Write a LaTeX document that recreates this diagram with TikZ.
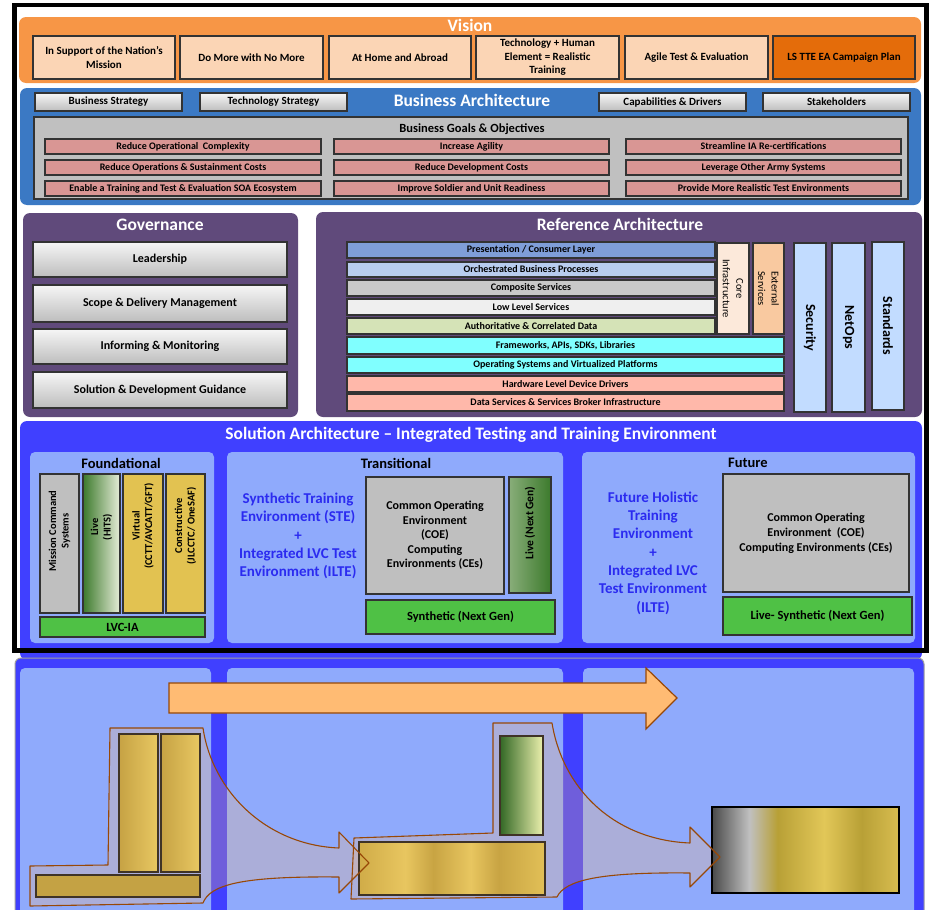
\documentclass[tikz,border=0pt]{standalone}
\usepackage{fontspec}
\setmainfont{Carlito}

% palette
\definecolor{visOr}{HTML}{F79646}
\definecolor{visBox}{HTML}{FBD5B5}
\definecolor{visDark}{HTML}{E46C0A}
\definecolor{lineGray}{HTML}{333333}
\definecolor{baBlue}{HTML}{3B79C4}
\definecolor{btnTop}{HTML}{F6F6F6}
\definecolor{btnBot}{HTML}{BDBDBD}
\definecolor{goalGray}{HTML}{C0C0C0}
\definecolor{pinkRow}{HTML}{D99694}
\definecolor{purp}{HTML}{604A7B}
\definecolor{presBlue}{HTML}{7F9ED8}
\definecolor{orchBlue}{HTML}{B8CCEE}
\definecolor{compGray}{HTML}{C8C8C8}
\definecolor{lowGray}{HTML}{EFEFEF}
\definecolor{authGreen}{HTML}{D5E3B7}
\definecolor{cyanRow}{HTML}{80FFFF}
\definecolor{salmon}{HTML}{FFB8AA}
\definecolor{coreCol}{HTML}{FCE9DA}
\definecolor{extCol}{HTML}{F9C9A0}
\definecolor{secBlue}{HTML}{C2DCFF}
\definecolor{solBlue}{HTML}{4040FF}
\definecolor{subBlue}{HTML}{8FAAFC}
\definecolor{midGray}{HTML}{BFBFBF}
\definecolor{gold}{HTML}{E2C251}
\definecolor{lvcGreen}{HTML}{4FC145}
\definecolor{blueTxt}{HTML}{2B2BF0}
\definecolor{envOr}{HTML}{FFBB73}
\definecolor{envLine}{HTML}{984807}
\definecolor{liveDark}{HTML}{3C7A2C}
\definecolor{liveLight}{HTML}{E6ECD8}
\definecolor{tanDark}{HTML}{C6A244}
\definecolor{tanLight}{HTML}{E8C862}
\definecolor{tanFlat}{HTML}{C4A244}
\definecolor{boxEdge}{HTML}{3F3326}
% stripe colours of the metallic bars
\definecolor{gA}{HTML}{D0AC48}
\definecolor{gB}{HTML}{E8C660}
\definecolor{gC}{HTML}{C8A443}
\definecolor{gD}{HTML}{E2C057}
\definecolor{mA}{HTML}{4A4A4A}
\definecolor{mB}{HTML}{C0C0C0}
\definecolor{mC}{HTML}{B8A036}
\definecolor{mD}{HTML}{E2C758}
\definecolor{mE}{HTML}{D8BD50}

\pgfdeclarehorizontalshading{goldstripe}{100bp}{color(0bp)=(gA); color(25bp)=(gA);
  color(37.5bp)=(gB); color(45bp)=(gC); color(55bp)=(gB); color(62.5bp)=(gC);
  color(75bp)=(gD); color(100bp)=(gD)}
\pgfdeclarehorizontalshading{metalgold}{100bp}{color(0bp)=(mA); color(25bp)=(mA);
  color(35bp)=(mB); color(42.5bp)=(mC); color(55bp)=(mD); color(65bp)=(mC);
  color(75bp)=(mE); color(100bp)=(mE)}

% box from corner (x1,y1) to (x2,y2), text centred
\newcommand{\bx}[7][]{%
  \pgfmathsetmacro\bxw{#5-#3}%
  \pgfmathsetmacro\bxh{#6-#4}%
  \node[bxbase,#1,minimum width=\bxw pt,minimum height=\bxh pt] (#2)
    at ({(#3+#5)/2},{(#4+#6)/2}) {#7};}

\tikzset{
  bxbase/.style={draw=lineGray, line width=1.2pt, align=center, inner sep=1pt, text=black},
  fs/.style 2 args={font=\fontsize{#1}{#2}\selectfont\bfseries},
  fr/.style 2 args={font=\fontsize{#1}{#2}\selectfont},
  panel/.style={draw=none, rounded corners=7pt},
  ptitle/.style={fs={17.5}{20}, text=white},
  vbox/.style={fill=visBox, fs={11}{13.5}},
  graybtn/.style={top color=btnTop, bottom color=btnBot, fs={11}{13}},
  pinkrow/.style={fill=pinkRow, fs={10}{12}},
  layer/.style={fs={10}{12}},
  govbox/.style={top color=btnTop, bottom color=btnBot, fs={12}{14}},
  subpanel/.style={fill=subBlue, draw=none, rounded corners=5pt},
  subtitle/.style={fs={14.5}{16}},
  bluetxt/.style={fs={15}{18.3}, text=blueTxt, align=center},
  vtext/.style={align=center, inner sep=0pt},
  greenbar/.style={fill=lvcGreen, fs={12.5}{14}},
  coebox/.style={fill=midGray, fs={12}{14.5}},
  stagebox/.style={draw=boxEdge, line width=1.2pt},
  envfill/.style={fill=envOr, fill opacity=0.25},
  envline/.style={draw=envLine, line width=1.1pt, line join=round},
}

\begin{document}
\begin{tikzpicture}[x=1pt,y=-1pt]
\useasboundingbox (0,0) rectangle (930,910);

% ---------------- Vision ----------------
\bx[panel,fill=visOr]{vis}{19}{17}{921}{83}{}
\node[ptitle] (vis-t) at (470,25) {Vision};
\bx[vbox]{v1}{33}{36}{175}{79}{In Support of the Nation's\\Mission}
\bx[vbox]{v2}{180}{36}{323}{79}{Do More with No More}
\bx[vbox]{v3}{329}{36}{471}{79}{At Home and Abroad}
\bx[vbox]{v4}{476}{36}{619}{79}{Technology + Human\\Element = Realistic\\Training}
\bx[vbox]{v5}{625}{36}{768}{79}{Agile Test \& Evaluation}
\bx[vbox,fill=visDark]{v6}{773}{36}{915}{79}{LS TTE EA Campaign Plan}

% ---------------- Business Architecture ----------------
\bx[panel,fill=baBlue]{ba}{20}{88}{921}{205}{}
\node[ptitle] (ba-t) at (472,100) {Business Architecture};
\bx[graybtn]{bs}{35}{93}{182}{111}{Business Strategy}
\bx[graybtn]{tsg}{200}{93}{347}{111}{Technology Strategy}
\bx[graybtn]{cd}{599}{93}{746}{111}{Capabilities \& Drivers}
\bx[graybtn]{sh}{763}{93}{910}{111}{Stakeholders}
\bx[fill=goalGray]{goals}{34}{117}{908}{199}{}
\node[fs={12.5}{14}] (goals-t) at (472,129) {Business Goals \& Objectives};
\bx[pinkrow]{g11}{45}{139}{321}{154}{Reduce Operational\ \ Complexity}
\bx[pinkrow]{g12}{45}{160}{321}{175}{Reduce Operations \& Sustainment Costs}
\bx[pinkrow]{g13}{45}{181}{321}{196}{Enable a Training and Test \& Evaluation SOA Ecosystem}
\bx[pinkrow]{g21}{334}{139}{609}{154}{Increase Agility}
\bx[pinkrow]{g22}{334}{160}{609}{175}{Reduce Development Costs}
\bx[pinkrow]{g23}{334}{181}{609}{196}{Improve Soldier and Unit Readiness}
\bx[pinkrow]{g31}{626}{139}{901}{154}{Streamline IA Re-certifications}
\bx[pinkrow]{g32}{626}{160}{901}{175}{Leverage Other Army Systems}
\bx[pinkrow]{g33}{626}{181}{901}{196}{Provide More Realistic Test Environments}

% ---------------- Governance ----------------
\bx[panel,fill=purp]{gov}{23}{213}{298}{417}{}
\node[ptitle] (gov-t) at (160,225) {Governance};
\bx[govbox]{gl}{33}{242}{287}{277}{Leadership}
\bx[govbox]{gs}{33}{285}{287}{322}{Scope \& Delivery Management}
\bx[govbox]{gi}{33}{329}{287}{364}{Informing \& Monitoring}
\bx[govbox]{gd}{33}{372}{287}{408}{Solution \& Development Guidance}

% ---------------- Reference Architecture ----------------
\bx[panel,fill=purp]{ra}{316}{212}{922}{417}{}
\node[ptitle] (ra-t) at (620,224) {Reference Architecture};
\bx[layer,fill=presBlue]{l1}{347}{242}{715}{258}{Presentation / Consumer Layer}
\bx[layer,fill=orchBlue]{l2}{347}{262}{715}{277}{Orchestrated Business Processes}
\bx[layer,fill=compGray]{l3}{347}{280}{715}{296}{Composite Services}
\bx[layer,fill=lowGray]{l4}{347}{299}{715}{315}{Low Level Services}
\bx[layer,fill=authGreen]{l5}{347}{318}{715}{334}{Authoritative \& Correlated Data}
\bx[layer,fill=cyanRow]{l6}{347}{337}{784}{354}{Frameworks, APIs, SDKs, Libraries}
\bx[layer,fill=cyanRow]{l7}{347}{357}{784}{373}{Operating Systems and Virtualized Platforms}
\bx[layer,fill=salmon]{l8}{347}{376}{784}{392}{Hardware Level Device Drivers}
\bx[layer,fill=salmon]{l9}{347}{394}{784}{411}{Data Services \& Services Broker Infrastructure}
\bx[fill=coreCol]{core}{717}{243}{749}{334}{}
\node[vtext,fr={10.5}{13.5},rotate=-90] (core-t) at (core) {Core\\Infrastructure};
\bx[fill=extCol]{ext}{753}{243}{784}{334}{}
\node[vtext,fr={10.5}{13.5},rotate=-90] (ext-t) at (ext) {External\\Services};
\bx[fill=secBlue]{sec}{794}{243}{826}{412}{}
\node[vtext,fs={14}{16},rotate=-90] (sec-t) at (sec) {Security};
\bx[fill=secBlue]{net}{832}{243}{865}{412}{}
\node[vtext,fs={14}{16},rotate=-90] (net-t) at (net) {NetOps};
\bx[fill=secBlue]{std}{872}{242}{904}{410}{}
\node[vtext,fs={14}{16},rotate=-90] (std-t) at (std) {Standards};

% ---------------- Solution Architecture ----------------
\bx[panel,fill=solBlue]{sol}{20}{421}{922}{660}{}
\node[ptitle] (sol-t) at (471,435) {Solution Architecture – Integrated Testing and Training Environment};

\bx[subpanel]{fnd}{30}{452}{214}{643}{}
\node[subtitle] (fnd-t) at (121,463) {Foundational};
\bx[fill=midGray]{mcs}{40}{474}{79}{613}{}
\node[vtext,fs={10.5}{12.5},rotate=90] (mcs-t) at (59.5,531) {Mission Command\\Systems};
\bx[left color=liveDark,right color=liveLight]{live}{83}{474}{120}{613}{}
\node[vtext,fs={10.5}{12.5},rotate=90] (live-t) at (101.5,527) {Live\\(HITS)};
\bx[fill=gold]{virt}{123}{474}{163}{613}{}
\node[vtext,fs={10.5}{12.5},rotate=90] (virt-t) at (143,526) {Virtual\\(CCTT/AVCATT/GFT)};
\bx[fill=gold]{cons}{166}{474}{205}{613}{}
\node[vtext,fs={10.5}{12.5},rotate=90] (cons-t) at (185.5,526) {Constructive\\(JLCCTC/ OneSAF)};
\bx[greenbar]{lvc}{40}{617}{205}{637}{LVC-IA}

\bx[subpanel]{trn}{227}{452}{563}{643}{}
\node[subtitle] (trn-t) at (396,463) {Transitional};
\node[bluetxt] (trn-b) at (298,536) {Synthetic Training\\Environment (STE)\\+\\Integrated LVC Test\\Environment (ILTE)};
\bx[coebox]{coe1}{366}{477}{504}{594}{Common Operating\\Environment\\(COE)\\Computing\\Environments (CEs)}
\bx[left color=liveDark!55!liveLight,right color=liveDark]{lng}{509}{477}{551}{593}{}
\node[vtext,fs={11.5}{13},rotate=90] (lng-t) at (530,523) {Live (Next Gen)};
\bx[greenbar]{syn}{366}{600}{555}{634}{Synthetic (Next Gen)}

\bx[subpanel]{fut}{582}{452}{915}{643}{}
\node[subtitle] (fut-t) at (748,463) {Future};
\node[bluetxt] (fut-b) at (653,553) {Future Holistic\\Training\\Environment\\+\\Integrated LVC\\Test Environment\\(ILTE)};
\bx[coebox,fs={12}{15}]{coe2}{723}{474}{909}{592}{Common Operating\\Environment\ \ (COE)\\Computing Environments (CEs)}
\bx[greenbar]{lsyn}{723}{597}{912}{635}{Live- Synthetic (Next Gen)}

% heavy frame round the upper diagram
\draw[line width=4.5pt] (14.5,5) rectangle (926.5,650.5);

% ---------------- Evolution strip ----------------
\fill[solBlue, draw=gray!75, line width=1pt, rounded corners=6pt] (15,658) rectangle (924,930);
\fill[subBlue, rounded corners=5pt] (20,668) rectangle (211,930);
\fill[subBlue, rounded corners=5pt] (227,668) rectangle (563,930);
\fill[subBlue, rounded corners=5pt] (583,668) rectangle (914,930);

% progression arrow
\draw[fill=envOr, draw=envLine, line width=1.2pt, line join=miter]
  (169,683) -- (646,683) -- (646,668) -- (677,698) -- (646,729) -- (646,713) -- (169,713) -- cycle;

% grouping envelopes with curved arrows
\path[envfill]
  (30,866) -- (108,865) -- (110,728) -- (203,728)
  .. controls (212,790) and (265,845) .. (339,848) -- (339,832) -- (369,863)
  -- (339,893) -- (339,877) .. controls (240,876) and (210,885) .. (203,903)
  -- (30,906) -- cycle;
\path[envfill]
  (354,838) -- (493,833) -- (493,723) -- (552,723)
  .. controls (563,790) and (615,840) .. (690,843) -- (690,827) -- (720,857)
  -- (690,887) -- (690,873) .. controls (600,872) and (565,880) .. (557,897)
  -- (351,899) -- cycle;

% stage 1 blocks
\bx[stagebox,left color=tanDark,right color=tanLight]{s1a}{119}{734}{158}{872}{}
\bx[stagebox,left color=tanDark,right color=tanLight]{s1b}{161}{734}{200}{872}{}
\bx[stagebox,fill=tanFlat]{s1c}{36}{875}{200}{897}{}
% stage 2 blocks
\bx[stagebox,left color=liveDark!85!black,right color=liveLight!80!yellow]{s2a}{500}{736}{543}{835}{}
\bx[stagebox,shading=goldstripe]{s2b}{359}{842}{545}{895}{}
% stage 3 block
\bx[stagebox,draw=black,line width=1.6pt,shading=metalgold]{s3}{712}{807}{899}{893}{}

\path[envline]
  (30,866) -- (108,865) -- (110,728) -- (203,728)
  .. controls (212,790) and (265,845) .. (339,848) -- (339,832) -- (369,863)
  -- (339,893) -- (339,877) .. controls (240,876) and (210,885) .. (203,903)
  -- (30,906) -- cycle;
\path[envline]
  (354,838) -- (493,833) -- (493,723) -- (552,723)
  .. controls (563,790) and (615,840) .. (690,843) -- (690,827) -- (720,857)
  -- (690,887) -- (690,873) .. controls (600,872) and (565,880) .. (557,897)
  -- (351,899) -- cycle;
\end{tikzpicture}
\end{document}
